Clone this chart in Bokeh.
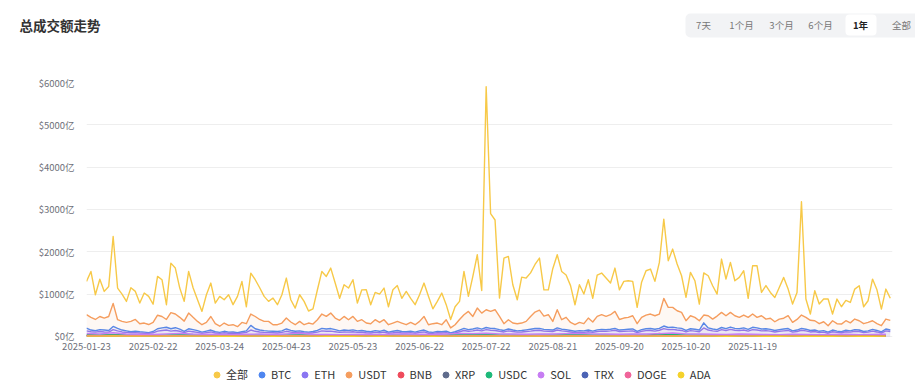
import pandas as pd
from bokeh.plotting import figure
from bokeh.layouts import column
from bokeh.models import (ColumnDataSource, FixedTicker, DatetimeTickFormatter, Legend,
                          LegendItem, Label, BoxAnnotation, Range1d)
from bokeh.embed import file_html
from bokeh.resources import INLINE

START = "2025-01-23"
STEP_MAIN = 2      # days between points of the large series
STEP_MINOR = 6     # days between points of the small series

total = [1299, 1535, 984, 1350, 1063, 1181, 2362, 1142, 1000, 827,
         1150, 1063, 787, 1024, 945, 760, 1417, 1339, 748, 1732,
         1614, 1142, 827, 1535, 1150, 866, 591, 984, 1260, 787,
         945, 866, 984, 750, 945, 1299, 700, 1496, 1339, 1150,
         945, 827, 906, 748, 984, 1378, 866, 669, 984, 827,
         600, 650, 1102, 1535, 1417, 1614, 1260, 900, 1220, 1142,
         1339,
         787, 1100, 1102, 748, 1040, 1000, 1142, 700, 1102, 1200,
         900, 1063, 900, 750, 984, 1260, 950, 650, 827, 1024,
         750, 400, 700, 827, 1535, 945, 1417, 1929, 1085, 5900,
         2900, 2750, 906, 1850, 1890, 1220, 866, 1400, 1378, 1500,
         1700, 1850, 1100, 1100, 1600, 1929, 1535, 1450, 1200, 748,
         1220, 1000, 1339, 900, 1450, 1496, 1378, 1260, 1614, 1100,
         1300,
         1315, 1300, 685, 1280, 1551, 1591, 1300, 1748, 2772, 1787,
         2063, 1709, 1433, 921, 1512, 1315, 764, 1500, 1433, 1197,
         1000, 1827, 1354, 1748, 1315, 1394, 1551, 900, 1669, 1669,
         1039, 1200, 1039, 921, 1157, 1394, 1118, 764, 1039, 3181,
         882, 528, 1079, 764, 882, 882, 528, 882, 700, 850,
         803, 1118, 1197, 700, 843, 1354, 1100, 646, 1118, 900]

btc = [197, 150, 134, 160, 150, 140, 236, 190, 150, 130,
       110, 125, 110, 100, 90, 115, 180, 200, 215, 180,
       205, 170, 120, 180, 160, 135, 100, 125, 150, 110,
       95, 120, 100, 105, 85, 110, 130, 260, 180, 150,
       135, 125, 120, 115, 130, 175, 140, 120, 130, 110,
       100, 115, 140, 190, 175, 185, 160, 130, 150, 140,
       155,
       130, 140, 120, 110, 135, 120, 145, 100, 120, 140,
       115, 110, 125, 100, 130, 150, 105, 95, 115, 110,
       125, 80, 110, 150, 190, 160, 175, 200, 170, 210,
       190, 185, 160, 140, 175, 150, 130, 140, 155, 170,
       185, 190, 165, 160, 150, 200, 170, 160, 140, 120,
       135, 130, 150, 125, 155, 165, 160, 170, 190, 150,
       160,
       170, 175, 120, 160, 180, 185, 170, 190, 245, 210,
       220, 200, 190, 140, 180, 170, 150, 320, 200, 175,
       160, 210, 185, 220, 190, 180, 200, 165, 215, 200,
       175, 180, 165, 140, 160, 175, 185, 130, 150, 190,
       170, 140, 150, 120, 135, 100, 150, 125, 110, 145,
       130, 160, 150, 115, 130, 165, 140, 105, 175, 150]

eth = [130, 110, 100, 115, 105, 100, 160, 130, 105, 95,
       85, 90, 80, 75, 70, 85, 125, 140, 150, 125,
       140, 120, 90, 125, 110, 95, 75, 90, 105, 80,
       70, 85, 75, 80, 65, 80, 95, 150, 120, 105,
       95, 90, 85, 80, 95, 120, 100, 85, 95, 80,
       75, 85, 100, 130, 120, 125, 110, 95, 105, 100,
       110,
       95, 100, 85, 80, 95, 85, 100, 75, 85, 100,
       80, 80, 90, 75, 95, 105, 75, 70, 85, 80,
       90, 60, 80, 110, 140, 120, 130, 150, 130, 160,
       145, 140, 120, 105, 130, 115, 100, 105, 115, 125,
       140, 145, 125, 120, 115, 150, 130, 120, 105, 90,
       100, 95, 110, 95, 115, 125, 120, 130, 145, 115,
       120,
       125, 130, 90, 120, 135, 140, 125, 145, 185, 160,
       165, 150, 140, 105, 135, 125, 110, 200, 150, 130,
       120, 160, 140, 165, 145, 135, 150, 125, 160, 150,
       130, 135, 125, 105, 120, 130, 140, 100, 115, 145,
       130, 105, 115, 90, 100, 75, 110, 95, 85, 110,
       100, 120, 115, 90, 100, 125, 105, 80, 130, 115]

usdt = [512, 450, 400, 470, 433, 470, 780, 394, 354, 330,
        354, 400, 300, 315, 280, 330, 500, 470, 400, 560,
        528, 450, 360, 551, 450, 354, 276, 330, 470, 300,
        240, 315, 260, 276, 230, 330, 300, 528, 470, 400,
        354, 354, 276, 276, 315, 433, 340, 276, 354, 276,
        315, 290, 394, 528, 472, 551, 433, 380, 472, 394,
        472,
        354, 394, 315, 300, 394, 330, 394, 276, 315, 354,
        315, 276, 330, 276, 354, 472, 276, 300, 315, 276,
        394, 200, 276, 400, 512, 590, 472, 669, 550, 630,
        590, 630, 472, 300, 394, 315, 300, 315, 354, 472,
        575, 620, 480, 512, 354, 630, 394, 450, 330, 276,
        330, 300, 433, 340, 472, 512, 472, 512, 590, 400,
        433,
        449, 488, 300, 449, 504, 528, 488, 528, 898, 685,
        685, 606, 567, 370, 488, 449, 370, 504, 488, 409,
        480, 567, 488, 567, 488, 449, 504, 449, 528, 449,
        488, 409, 430, 346, 409, 430, 488, 331, 400, 504,
        449, 380, 370, 300, 346, 252, 370, 300, 291, 370,
        320, 409, 370, 300, 331, 370, 300, 252, 409, 380]

bnb = [15, 12, 18, 12, 10, 10, 12, 14, 11, 10, 9, 8, 10, 11, 9, 12, 14, 10, 9, 8,
       9, 10, 8, 11, 12, 10, 9, 11, 14, 13, 15, 12, 11, 10, 12, 11, 13, 14, 12, 11,
       10, 12, 11, 70, 16, 12, 11, 10, 9, 11, 10, 9, 8, 10, 9, 8, 9, 10, 8, 9, 10]
xrp = [30, 25, 35, 25, 22, 20, 25, 28, 22, 20, 18, 16, 20, 22, 18, 24, 30, 20, 18, 16,
       18, 20, 16, 22, 25, 20, 18, 22, 30, 26, 32, 24, 22, 20, 24, 22, 26, 28, 24, 22,
       20, 24, 22, 26, 32, 24, 22, 20, 18, 22, 20, 18, 16, 20, 18, 16, 18, 20, 16, 18, 20]
usdc = [35, 30, 40, 30, 28, 25, 30, 35, 28, 25, 22, 20, 25, 28, 22, 30, 35, 25, 22, 20,
        22, 25, 20, 28, 30, 25, 22, 28, 35, 32, 38, 30, 28, 25, 30, 28, 32, 35, 30, 28,
        25, 30, 28, 32, 40, 30, 28, 25, 22, 28, 25, 22, 20, 25, 22, 20, 22, 25, 20, 22, 25]
sol = [70, 60, 85, 55, 50, 45, 60, 70, 55, 50, 45, 40, 50, 55, 45, 60, 75, 50, 45, 40,
       45, 50, 40, 55, 60, 50, 45, 55, 70, 65, 75, 60, 55, 50, 60, 55, 65, 70, 60, 55,
       50, 60, 55, 65, 80, 60, 55, 50, 45, 55, 50, 45, 40, 50, 45, 40, 45, 50, 40, 45, 50]
trx = [8, 7, 9, 7, 7, 6, 7, 8, 7, 6, 6, 6, 7, 7, 6, 7, 8, 7, 6, 6,
       6, 7, 6, 7, 8, 7, 6, 7, 8, 8, 9, 7, 7, 7, 8, 7, 8, 8, 7, 7,
       7, 8, 7, 8, 9, 8, 7, 7, 6, 7, 7, 6, 6, 7, 6, 6, 6, 7, 6, 6, 7]
doge = [20, 16, 22, 15, 14, 12, 14, 16, 13, 12, 11, 10, 12, 13, 11, 14, 16, 12, 11, 10,
        11, 12, 10, 13, 15, 12, 11, 13, 17, 15, 18, 14, 13, 12, 14, 13, 15, 16, 14, 13,
        12, 14, 13, 15, 18, 14, 13, 12, 11, 13, 12, 11, 10, 12, 11, 10, 11, 12, 10, 11, 12]
ada = [7, 6, 8, 6, 5, 5, 6, 6, 5, 5, 4, 4, 5, 5, 4, 6, 7, 5, 4, 4,
       4, 5, 4, 5, 6, 5, 4, 5, 7, 6, 7, 6, 5, 5, 6, 5, 6, 6, 5, 5,
       5, 6, 5, 6, 7, 6, 5, 5, 4, 5, 5, 4, 4, 5, 4, 4, 4, 5, 4, 4, 5]

series_names = ["全部", "BTC", "ETH", "USDT", "BNB", "XRP", "USDC", "SOL", "TRX", "DOGE", "ADA"]
series_values = [total, btc, eth, usdt, bnb, xrp, usdc, sol, trx, doge, ada]
series_steps = [STEP_MAIN, STEP_MAIN, STEP_MAIN, STEP_MAIN] + [STEP_MINOR] * 7
series_colors = ["#F7C948", "#4E86F0", "#8A76F2", "#F59D5E", "#EF4B5C", "#5F6B8C",
                 "#1DB97A", "#C77DF3", "#4B63B5", "#F0649A", "#F5D22B"]
filled = {"BTC", "ETH", "USDT"}

x_tick_labels = ["2025-01-23", "2025-02-22", "2025-03-24", "2025-04-23", "2025-05-23",
                 "2025-06-22", "2025-07-22", "2025-08-21", "2025-09-20", "2025-10-20",
                 "2025-11-19"]
y_ticks = [0, 1000, 2000, 3000, 4000, 5000, 6000]
y_tick_labels = ["$0亿", "$1000亿", "$2000亿", "$3000亿", "$4000亿", "$5000亿", "$6000亿"]
button_labels = ["7天", "1个月", "3个月", "6个月", "1年", "全部"]
TITLE = "总成交额走势"

FONT = "Noto Sans CJK SC"
W = 915


def bare(fig):
    fig.outline_line_color = None
    fig.xgrid.visible = False
    fig.ygrid.visible = False
    fig.background_fill_color = "white"
    fig.border_fill_color = "white"
    fig.frame_align = False
    return fig


# ---------- header: title and range buttons ----------
HH = 60
header = bare(figure(width=W, height=HH, output_backend="svg", toolbar_location=None,
                     x_range=Range1d(0, W), y_range=Range1d(HH, 0),
                     x_axis_location=None, y_axis_location=None,
                     min_border_left=0, min_border_right=0, min_border_top=0, min_border_bottom=0))
header.add_layout(Label(x=19, y=24, text=TITLE, text_font=FONT, text_font_size="13.5px",
                        text_font_style="bold", text_color="#333333",
                        text_baseline="middle", text_align="left"))
header.add_layout(BoxAnnotation(left=685, right=930, top=13, bottom=37,
                                fill_color="#F2F3F5", fill_alpha=1, line_color=None,
                                border_radius=5))
header.add_layout(BoxAnnotation(left=845, right=876, top=14, bottom=35,
                                fill_color="white", fill_alpha=1, line_color=None,
                                border_radius=4))
button_x = [703, 741, 781, 820, 860, 901]
for lbl, bx in zip(button_labels, button_x):
    active = lbl == "1年"
    header.add_layout(Label(x=bx, y=24.5, text=lbl, text_font=FONT, text_font_size="9.5px",
                            text_font_style="bold" if active else "normal",
                            text_color="#222222" if active else "#777777",
                            text_baseline="middle", text_align="center"))

# ---------- main chart ----------
start = pd.Timestamp(START).to_pydatetime()
end = (pd.Timestamp(START) + pd.Timedelta(days=363)).to_pydatetime()

p = figure(width=W, height=298, x_axis_type="datetime", output_backend="svg",
           toolbar_location=None, x_range=Range1d(start, end), y_range=Range1d(-50, 6000),
           min_border_left=86, min_border_right=23, min_border_top=22, min_border_bottom=20)
p.frame_align = False
p.outline_line_color = None
p.background_fill_color = "white"
p.border_fill_color = "white"
p.xgrid.visible = False
p.ygrid.grid_line_color = "#EEEEEE"
p.ygrid.grid_line_width = 1

p.yaxis.ticker = FixedTicker(ticks=y_ticks)
p.yaxis.major_label_overrides = {t: l for t, l in zip(y_ticks, y_tick_labels)}
p.yaxis.axis_line_color = None
p.yaxis.major_tick_line_color = None
p.yaxis.minor_tick_line_color = None
p.yaxis.major_label_standoff = 6
p.yaxis.major_label_text_font = FONT
p.yaxis.major_label_text_font_size = "9.5px"
p.yaxis.major_label_text_color = "#6E7079"

x_ticks = [pd.Timestamp(s).value // 10**6 for s in x_tick_labels]
p.xaxis.ticker = FixedTicker(ticks=x_ticks)
fmt = "%Y-%m-%d"
p.xaxis.formatter = DatetimeTickFormatter(milliseconds=fmt, seconds=fmt, minsec=fmt, minutes=fmt,
                                          hourmin=fmt, hours=fmt, days=fmt, months=fmt, years=fmt)
p.xaxis.axis_line_color = None
p.xaxis.major_tick_line_color = None
p.xaxis.minor_tick_line_color = None
p.xaxis.major_label_standoff = -2
p.xaxis.major_label_text_font = FONT
p.xaxis.major_label_text_font_size = "9.5px"
p.xaxis.major_label_text_color = "#6E7079"

for name, vals, step, color in zip(series_names, series_values, series_steps, series_colors):
    dates = pd.date_range(START, periods=len(vals), freq=f"{step}D")
    src = ColumnDataSource(dict(x=dates, y=vals, z=[0] * len(vals)))
    if name in filled:
        p.varea(x="x", y1="z", y2="y", source=src, fill_color=color, fill_alpha=0.07)
    p.line(x="x", y="y", source=src, line_color=color, line_width=1.4, line_join="round")

# ---------- footer: legend ----------
FH = 383 - HH - 298
footer = bare(figure(width=W, height=FH, output_backend="svg", toolbar_location=None,
                     x_range=Range1d(0, W), y_range=Range1d(0, FH),
                     x_axis_location=None, y_axis_location=None,
                     min_border_left=0, min_border_right=0, min_border_top=0, min_border_bottom=0))
nan = float("nan")
items = []
for name, color in zip(series_names, series_colors):
    dot = footer.scatter(x=[nan], y=[nan], marker="circle", size=6,
                         fill_color=color, line_color=color)
    items.append(LegendItem(label=name, renderers=[dot]))
legend = Legend(items=items, orientation="horizontal", location=(209, 1),
                glyph_width=15, glyph_height=15, label_standoff=2, spacing=6,
                padding=0, margin=0, border_line_color=None, background_fill_alpha=0,
                label_text_font=FONT, label_text_font_size="11px", label_text_color="#333333")
footer.add_layout(legend, "center")

layout = column(header, p, footer, spacing=0)
open("out.html", "w").write(file_html(layout, INLINE))
